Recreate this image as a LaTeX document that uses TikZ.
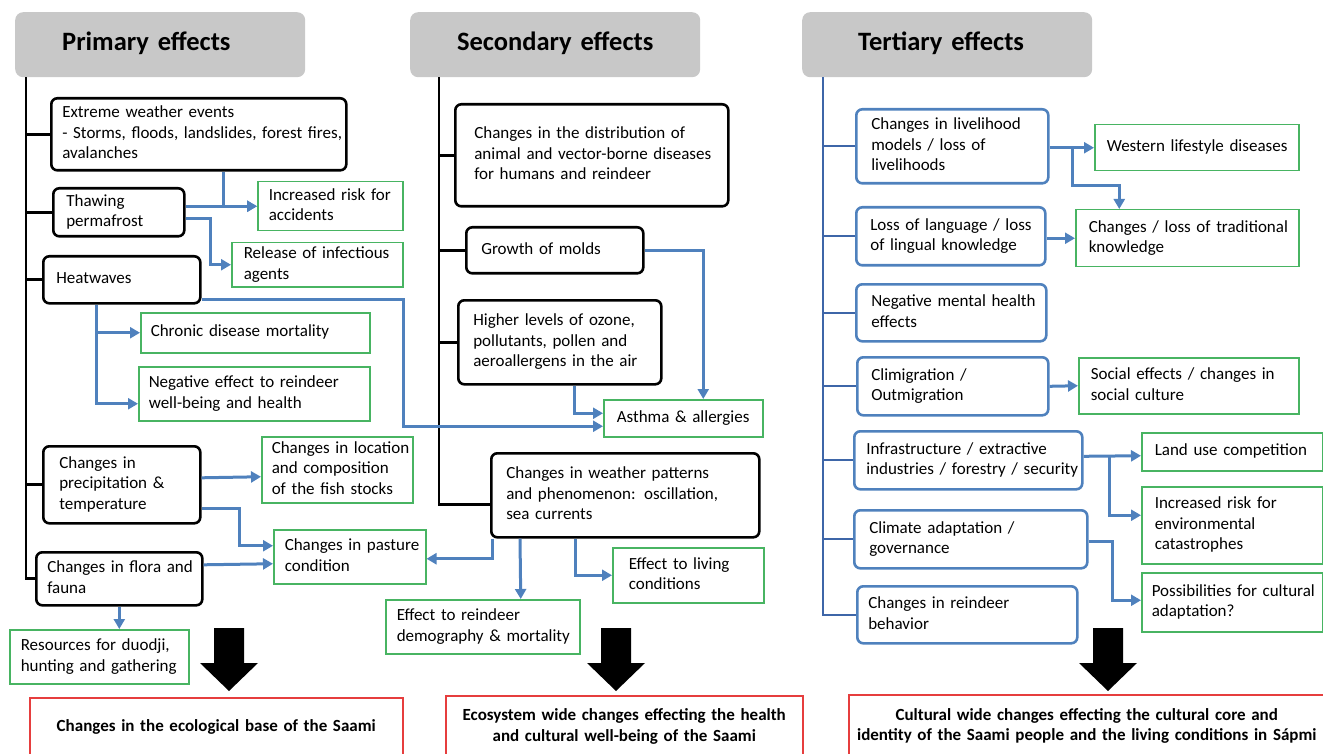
\documentclass[tikz,border=0pt]{standalone}
\usepackage{fontspec}
\setmainfont{Carlito}
\usetikzlibrary{arrows.meta}

\definecolor{headgray}{RGB}{200,200,200}
\definecolor{linkblue}{RGB}{79,129,189}
\definecolor{trunkblue}{RGB}{62,102,168}
\definecolor{effgreen}{RGB}{72,180,98}
\definecolor{outred}{RGB}{230,62,62}

% keep the hand-made line breaks of a box, never wrap inside a line
\newcommand{\boxlines}[1]{\begin{tabular}{@{}l@{}}#1\end{tabular}}
\newcommand{\midlines}[1]{\begin{tabular}{@{}c@{}}#1\end{tabular}}

\begin{document}
\begin{tikzpicture}[
    x=1pt, y=-1pt,
    every node/.style={
        font=\fontsize{17}{20.5}\selectfont,
        anchor=north west,
        align=left,
        inner ysep=0pt,
    },
    header/.style={
        fill=headgray,
        rounded corners=8pt,
        minimum width=290pt,
        minimum height=65pt,
        font=\fontsize{26.5}{30}\selectfont\bfseries,
    },
    cause/.style={draw=black, line width=2.6pt, rounded corners=6pt},
    culture/.style={draw=linkblue, line width=2.6pt, rounded corners=6pt},
    effect/.style={draw=effgreen, line width=1.5pt},
    outcome/.style={
        draw=outred,
        line width=1.5pt,
        align=center,
        inner xsep=3pt,
        font=\fontsize{17}{20.5}\selectfont\bfseries,
    },
    trunk/.style={draw=black, line width=2.8pt},
    link/.style={draw=linkblue, line width=3pt, -{Triangle[length=10pt,width=11pt]}},
]
    \useasboundingbox (0,0) rectangle (1323,754);

    % headers
    \node[header, inner xsep=47pt, text width=196pt] (primary) at (15,12) {\boxlines{Primary effects}};
    \node[header, align=center, inner xsep=10pt, text width=270pt] (secondary) at (410,12) {\midlines{Secondary effects}};
    \node[header, inner xsep=56pt, text width=178pt] (tertiary) at (802,12) {\boxlines{Tertiary effects}};

    % primary effects
    \node[cause, inner xsep=11pt, text width=273pt, minimum height=72pt] (extreme) at (50,97)
        {\boxlines{Extreme weather events\\- Storms, floods, landslides, forest fires,\\avalanches}};
    \node[cause, inner xsep=13pt, text width=105pt, minimum height=48pt] (thaw) at (52,187)
        {\boxlines{Thawing\\permafrost}};
    \node[cause, inner xsep=13pt, text width=131pt, minimum height=47pt] (heat) at (42,255)
        {\boxlines{Heatwaves}};
    \node[cause, inner xsep=16pt, text width=125pt, minimum height=77pt] (precip) at (42,445)
        {\boxlines{Changes in\\precipitation \&\\temperature}};
    \node[cause, inner xsep=11pt, text width=144pt, minimum height=53pt] (flora) at (35,551)
        {\boxlines{Changes in flora and\\fauna}};

    \node[effect, inner xsep=11pt, text width=123pt, minimum height=49pt] (accidents) at (257,181)
        {\boxlines{Increased risk for\\accidents}};
    \node[effect, inner xsep=12pt, text width=147pt, minimum height=44pt] (release) at (231,242)
        {\boxlines{Release of infectious\\agents}};
    \node[effect, inner xsep=10pt, text width=209pt, minimum height=40pt] (chronic) at (140,312)
        {\boxlines{Chronic disease mortality}};
    \node[effect, inner xsep=10pt, text width=211pt, minimum height=54pt] (negative) at (138,366)
        {\boxlines{Negative effect to reindeer\\well-being and health}};
    \node[effect, inner xsep=10pt, text width=131pt, minimum height=66pt] (fish) at (261,436)
        {\boxlines{Changes in location\\and composition\\of the fish stocks}};
    \node[effect, inner xsep=11pt, text width=130pt, minimum height=54pt] (pasture) at (273,529)
        {\boxlines{Changes in pasture\\condition}};
    \node[effect, inner xsep=11pt, text width=157pt, minimum height=54pt] (resources) at (9,629)
        {\boxlines{Resources for duodji,\\hunting and gathering}};

    % secondary effects
    \node[cause, inner xsep=19pt, text width=235pt, minimum height=102pt] (distribution) at (454,103)
        {\boxlines{Changes in the distribution of\\animal and vector-borne diseases\\for humans and reindeer}};
    \node[cause, inner xsep=15pt, text width=147pt, minimum height=46pt] (molds) at (465,226)
        {\boxlines{Growth of molds}};
    \node[cause, inner xsep=15pt, text width=173pt, minimum height=84pt] (higher) at (457,299)
        {\boxlines{Higher levels of ozone,\\pollutants, pollen and\\aeroallergens in the air}};
    \node[cause, inner xsep=15pt, text width=238pt, minimum height=84pt] (weather) at (490,452)
        {\boxlines{Changes in weather patterns\\and phenomenon: oscillation,\\sea currents}};

    \node[effect, inner xsep=13pt, text width=133pt, minimum height=37pt] (asthma) at (603,399)
        {\boxlines{Asthma \& allergies}};
    \node[effect, inner xsep=11pt, text width=172pt, minimum height=54pt] (demography) at (385,599)
        {\boxlines{Effect to reindeer\\demography \& mortality}};
    \node[effect, inner xsep=16pt, text width=119pt, minimum height=55pt] (living) at (612,547)
        {\boxlines{Effect to living\\conditions}};

    % tertiary effects
    \node[culture, inner xsep=15pt, text width=162pt, minimum height=74pt] (livelihood) at (855,108)
        {\boxlines{Changes in livelihood\\models / loss of\\livelihoods}};
    \node[culture, inner xsep=14pt, text width=161pt, minimum height=58pt] (language) at (855,206)
        {\boxlines{Loss of language / loss\\of lingual knowledge}};
    \node[culture, inner xsep=15pt, text width=160pt, minimum height=57pt] (mental) at (855,283)
        {\boxlines{Negative mental health\\effects}};
    \node[culture, inner xsep=14pt, text width=163pt, minimum height=58pt] (climigration) at (856,356)
        {\boxlines{Climigration /\\Outmigration}};
    \node[culture, inner xsep=12pt, text width=204pt, minimum height=58pt] (infra) at (853,430)
        {\boxlines{Infrastructure / extractive\\industries / forestry / security}};
    \node[culture, inner xsep=15pt, text width=203pt, minimum height=58pt] (adapt) at (853,509)
        {\boxlines{Climate adaptation /\\governance}};
    \node[culture, inner xsep=11pt, text width=198pt, minimum height=57pt] (behavior) at (856,585)
        {\boxlines{Changes in reindeer\\behavior}};

    \node[effect, inner xsep=12pt, text width=180pt, minimum height=46pt] (western) at (1094,124)
        {\boxlines{Western lifestyle diseases}};
    \node[effect, inner xsep=13pt, text width=197pt, minimum height=57pt] (trad) at (1075,209)
        {\boxlines{Changes / loss of traditional\\knowledge}};
    \node[effect, inner xsep=12pt, text width=196pt, minimum height=56pt] (socialfx) at (1078,357)
        {\boxlines{Social effects / changes in\\social culture}};
    \node[effect, inner xsep=13pt, text width=155pt, minimum height=38pt] (landuse) at (1141,432)
        {\boxlines{Land use competition}};
    \node[effect, inner xsep=13pt, text width=155pt, minimum height=77pt] (envrisk) at (1141,486)
        {\boxlines{Increased risk for\\environmental\\catastrophes}};
    \node[effect, inner xsep=10pt, text width=161pt, minimum height=59pt] (possib) at (1141,572)
        {\boxlines{Possibilities for cultural\\adaptation?}};

    % outcomes
    \node[outcome, text width=367pt, minimum height=60pt] (eco) at (29,697)
        {\midlines{Changes in the ecological base of the Saami}};
    \node[outcome, text width=351pt, minimum height=62pt] (health) at (445,695)
        {\midlines{Ecosystem wide changes effecting the health\\and cultural well-being of the Saami}};
    \node[outcome, text width=470pt, minimum height=63pt] (core) at (848,694)
        {\midlines{Cultural wide changes effecting the cultural core and\\identity of the Saami people and the living conditions in Sápmi}};

    % trunks
    \coordinate (ptrunk) at ([xshift=11pt]primary.south west);
    \coordinate (strunk) at ([xshift=29pt]secondary.south west);
    \coordinate (ttrunk) at ([xshift=21pt]tertiary.south west);

    \draw[trunk] (ptrunk) |- (flora.west);
    \foreach \n in {extreme,thaw,heat,precip}
        \draw[trunk] (ptrunk |- \n.west) -- (\n.west);

    \draw[trunk] (strunk) |- ([yshift=-9pt]weather.west);
    \foreach \n in {distribution,molds,higher}
        \draw[trunk] (strunk |- \n.west) -- (\n.west);

    \draw[trunk, draw=trunkblue, line width=2.6pt] (ttrunk) |- (behavior.west);
    \foreach \n in {livelihood,language,mental,climigration,infra,adapt}
        \draw[trunk, draw=trunkblue, line width=2.2pt] (ttrunk |- \n.west) -- (\n.west);

    % links
    \draw[link] ([xshift=25pt]extreme.south) |- (accidents.west);
    \draw[link] (thaw.east |- accidents.west) -- (accidents.west);
    \draw[link] ([yshift=-6pt]thaw.east) -- ++(25,0) |- (release.west);
    \draw[link] ([yshift=-20pt]heat.east) -- ++(202,0) |- ([yshift=-8pt]asthma.west);
    \draw[link] ([xshift=-25pt]heat.south) |- (chronic.west);
    \draw[link] ([xshift=-25pt]heat.south) |- ([yshift=-10pt]negative.west);
    \draw[link] ([yshift=7pt]precip.east) -- ([yshift=-7pt]fish.west);
    \draw[link] ([yshift=-24pt]precip.east) -- ++(38,0) |- ([yshift=11pt]pasture.west);
    \draw[link] ([yshift=14pt]flora.east) -- ([yshift=-7pt]pasture.west);
    \draw[link] (flora.south) -- (flora.south |- resources.north);

    \draw[link] (molds.east) -| ([xshift=20pt]asthma.north);
    \draw[link] ([xshift=15pt]higher.south) |- ([yshift=5pt]asthma.west);
    \draw[link] ([xshift=2pt]weather.south west) |- ([yshift=-2pt]pasture.east);
    \draw[link] ([xshift=30pt]weather.south west) -- ([xshift=38pt]demography.north);
    \draw[link] ([xshift=85pt]weather.south west) |- (living.west);

    \draw[link] (livelihood.east |- western.west) -- (western.west);
    \draw[link] (livelihood.east |- western.west) ++(23,0) -- ++(0,38) -| ([xshift=-68pt]trad.north);
    \draw[link] (language.east |- trad.west) -- (trad.west);
    \draw[link] (climigration.east) -- (socialfx.west);
    \draw[link] ([yshift=4pt]infra.east) -- ([yshift=-4pt]landuse.west);
    \draw[link] ([yshift=4pt]infra.east) ++(26,0) |- ([yshift=10pt]envrisk.west);
    \draw[link] ([yshift=-2pt]adapt.east) -- ++(24,0) |- ([yshift=2pt]possib.west);

    % block arrows
    \foreach \cx in {229,616,1108}
        \fill (\cx-15,628) -- (\cx+15,628) -- (\cx+15,663) -- (\cx+29,663)
            -- (\cx,691) -- (\cx-29,663) -- (\cx-15,663) -- cycle;
\end{tikzpicture}
\end{document}
